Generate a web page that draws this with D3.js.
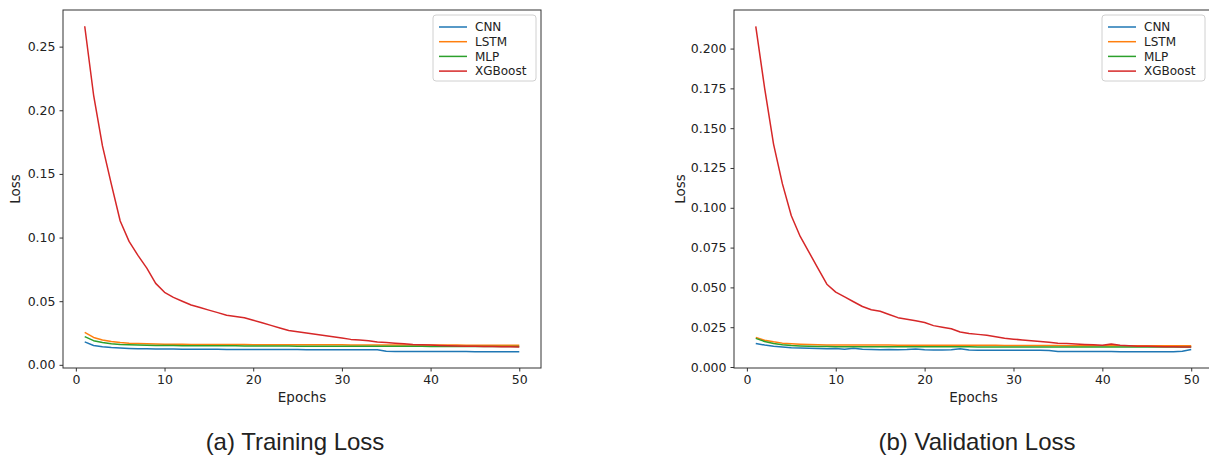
<!DOCTYPE html>
<html>
<head>
<meta charset="utf-8">
<script src="https://cdn.jsdelivr.net/npm/d3@7"></script>
<style>
  body { margin: 0; background: #fff; }
  svg { display: block; }
  text { font-family: "DejaVu Sans", sans-serif; fill: #222; }
</style>
</head>
<body>
<div class="usable"></div>
<script>
// datos
const epochs = d3.range(1, 51)
const modelos = ["CNN", "LSTM", "MLP", "XGBoost"]
const colores = ["#1f77b4", "#ff7f0e", "#2ca02c", "#d62728"]

const trainCNN = [0.0180, 0.0152, 0.0142, 0.0136, 0.0132, 0.0129, 0.0127, 0.0126, 0.0125, 0.0124,
  0.0124, 0.0123, 0.0123, 0.0122, 0.0122, 0.0122, 0.0121, 0.0121, 0.0121, 0.0121,
  0.0120, 0.0120, 0.0120, 0.0120, 0.0120, 0.0119, 0.0119, 0.0119, 0.0119, 0.0119,
  0.0119, 0.0118, 0.0118, 0.0118, 0.0106, 0.0105, 0.0105, 0.0105, 0.0105, 0.0104,
  0.0104, 0.0104, 0.0104, 0.0104, 0.0103, 0.0103, 0.0103, 0.0103, 0.0103, 0.0103]
const trainLSTM = [0.0255, 0.0215, 0.0195, 0.0183, 0.0175, 0.0170, 0.0167, 0.0165, 0.0163, 0.0162,
  0.0161, 0.0161, 0.0160, 0.0160, 0.0160, 0.0159, 0.0159, 0.0159, 0.0159, 0.0158,
  0.0158, 0.0158, 0.0158, 0.0158, 0.0157, 0.0157, 0.0157, 0.0157, 0.0157, 0.0157,
  0.0156, 0.0156, 0.0156, 0.0156, 0.0156, 0.0156, 0.0155, 0.0155, 0.0155, 0.0155,
  0.0155, 0.0155, 0.0155, 0.0154, 0.0154, 0.0154, 0.0154, 0.0154, 0.0154, 0.0154]
const trainMLP = [0.0222, 0.0190, 0.0175, 0.0166, 0.0160, 0.0157, 0.0155, 0.0153, 0.0152, 0.0151,
  0.0151, 0.0150, 0.0150, 0.0150, 0.0149, 0.0149, 0.0149, 0.0149, 0.0148, 0.0148,
  0.0148, 0.0148, 0.0148, 0.0148, 0.0147, 0.0147, 0.0147, 0.0147, 0.0147, 0.0147,
  0.0147, 0.0146, 0.0146, 0.0146, 0.0146, 0.0146, 0.0146, 0.0146, 0.0146, 0.0145,
  0.0145, 0.0145, 0.0145, 0.0145, 0.0145, 0.0145, 0.0145, 0.0145, 0.0145, 0.0145]
const trainXGB = [0.266, 0.212, 0.172, 0.142, 0.113, 0.097, 0.086, 0.076, 0.064, 0.057,
  0.053, 0.050, 0.047, 0.045, 0.043, 0.041, 0.039, 0.038, 0.037, 0.035,
  0.033, 0.031, 0.029, 0.027, 0.026, 0.025, 0.024, 0.023, 0.022, 0.021,
  0.020, 0.0195, 0.019, 0.018, 0.0175, 0.017, 0.0165, 0.016, 0.0158, 0.0155,
  0.0152, 0.0150, 0.0148, 0.0147, 0.0146, 0.0145, 0.0144, 0.0143, 0.0142, 0.0141]

const valCNN = [0.0148, 0.0138, 0.0130, 0.0125, 0.0121, 0.0119, 0.0118, 0.0117, 0.0115, 0.0117,
  0.0112, 0.0118, 0.0111, 0.0110, 0.0109, 0.0110, 0.0109, 0.0110, 0.0113, 0.0108,
  0.0107, 0.0107, 0.0108, 0.0114, 0.0107, 0.0106, 0.0106, 0.0106, 0.0106, 0.0105,
  0.0105, 0.0105, 0.0105, 0.0104, 0.0097, 0.0097, 0.0097, 0.0097, 0.0097, 0.0097,
  0.0097, 0.0096, 0.0096, 0.0096, 0.0096, 0.0096, 0.0096, 0.0096, 0.0099, 0.0110]
const valLSTM = [0.0185, 0.0168, 0.0158, 0.0150, 0.0146, 0.0143, 0.0141, 0.0140, 0.0139, 0.0139,
  0.0138, 0.0138, 0.0138, 0.0138, 0.0139, 0.0138, 0.0137, 0.0137, 0.0137, 0.0137,
  0.0137, 0.0136, 0.0136, 0.0136, 0.0136, 0.0136, 0.0136, 0.0136, 0.0135, 0.0135,
  0.0135, 0.0135, 0.0135, 0.0135, 0.0135, 0.0134, 0.0134, 0.0134, 0.0134, 0.0134,
  0.0134, 0.0134, 0.0134, 0.0133, 0.0133, 0.0133, 0.0133, 0.0133, 0.0133, 0.0133]
const valMLP = [0.0180, 0.0160, 0.0148, 0.0140, 0.0135, 0.0132, 0.0130, 0.0129, 0.0129, 0.0128,
  0.0128, 0.0128, 0.0128, 0.0128, 0.0128, 0.0128, 0.0127, 0.0127, 0.0127, 0.0127,
  0.0127, 0.0127, 0.0127, 0.0127, 0.0127, 0.0126, 0.0126, 0.0126, 0.0126, 0.0126,
  0.0126, 0.0126, 0.0126, 0.0126, 0.0126, 0.0126, 0.0126, 0.0125, 0.0125, 0.0125,
  0.0125, 0.0125, 0.0125, 0.0125, 0.0125, 0.0125, 0.0125, 0.0125, 0.0125, 0.0125]
const valXGB = [0.214, 0.175, 0.140, 0.115, 0.095, 0.082, 0.072, 0.062, 0.052, 0.047,
  0.044, 0.041, 0.038, 0.036, 0.035, 0.033, 0.031, 0.030, 0.029, 0.028,
  0.026, 0.025, 0.024, 0.022, 0.021, 0.0205, 0.020, 0.019, 0.018, 0.0175,
  0.017, 0.0165, 0.016, 0.0155, 0.015, 0.0148, 0.0145, 0.0142, 0.014, 0.0136,
  0.0145, 0.0136, 0.0133, 0.0131, 0.0130, 0.0129, 0.0128, 0.0127, 0.0126, 0.0125]

const xTicks = [0, 10, 20, 30, 40, 50]
const yTicksTrain = [0, 0.05, 0.10, 0.15, 0.20, 0.25]
const yTicksVal = [0, 0.025, 0.05, 0.075, 0.10, 0.125, 0.15, 0.175, 0.20]

const width = 1209,
  height = 462

let svg = d3.select(".usable").append("svg")
  .attr("width", width)
  .attr("height", height)

function dibujarPanel(p) {
  let g = svg.append("g")
  let todos = p.series.flat()
  // margen del 5% como matplotlib
  let ext = d3.extent(todos)
  let padY = (ext[1] - ext[0]) * 0.05
  let padX = (50 - 1) * 0.05

  let x = d3.scaleLinear().domain([1 - padX, 50 + padX]).range([p.left, p.right])
  let y = d3.scaleLinear().domain([ext[0] - padY, ext[1] + padY]).range([p.bottom, p.top])

  // ejes
  let ejeX = g.append("g").attr("transform", "translate(0," + p.bottom + ")")
    .call(d3.axisBottom(x).tickValues(xTicks).tickSize(3.5).tickPadding(4))
  let ejeY = g.append("g").attr("transform", "translate(" + p.left + ",0)")
    .call(d3.axisLeft(y).tickValues(p.yTicks).tickFormat(d3.format(p.fmt)).tickSize(3.5).tickPadding(4))
  g.selectAll(".domain").remove()
  g.selectAll(".tick line").attr("stroke", "#333").attr("stroke-width", 1)
  g.selectAll(".tick text").style("font-size", "12.5px").attr("fill", "#222")

  // lineas
  let linea = d3.line().x((d, i) => x(epochs[i])).y(d => y(d))
  p.series.forEach(function (s, i) {
    g.append("path").datum(s)
      .attr("d", linea)
      .attr("fill", "none")
      .attr("stroke", colores[i])
      .attr("stroke-width", 1.5)
      .attr("stroke-linejoin", "round")
  })

  // marco
  g.append("rect")
    .attr("x", p.left).attr("y", p.top)
    .attr("width", p.right - p.left).attr("height", p.bottom - p.top)
    .attr("fill", "none").attr("stroke", "#333").attr("stroke-width", 1)

  // titulos de ejes
  g.append("text").text("Epochs")
    .attr("x", (p.left + p.right) / 2).attr("y", p.bottom + 34)
    .attr("text-anchor", "middle").style("font-size", "13.5px")
  g.append("text").text("Loss")
    .attr("transform", "translate(" + p.labelX + "," + ((p.top + p.bottom) / 2) + ") rotate(-90)")
    .attr("text-anchor", "middle").style("font-size", "13.5px")

  // leyenda
  let lx = p.legendX, ly = p.top + 5
  let ley = g.append("g")
  ley.append("rect")
    .attr("x", lx).attr("y", ly).attr("width", 103).attr("height", 66).attr("rx", 3)
    .attr("fill", "white").attr("fill-opacity", 0.8)
    .attr("stroke", "#d0d0d0").attr("stroke-width", 1)
  modelos.forEach(function (m, i) {
    let yy = ly + 12 + i * 14.7
    ley.append("line")
      .attr("x1", lx + 6).attr("x2", lx + 34).attr("y1", yy).attr("y2", yy)
      .attr("stroke", colores[i]).attr("stroke-width", 1.5)
    ley.append("text").text(m)
      .attr("x", lx + 42).attr("y", yy + 4.3)
      .style("font-size", "12px")
  })

  // pie de figura
  svg.append("text").text(p.caption)
    .attr("x", p.captionX).attr("y", 450)
    .attr("text-anchor", "middle")
    .style("font-family", "'Liberation Sans', Arial, sans-serif")
    .style("font-size", "24px")
    .attr("fill", "#111")
}

dibujarPanel({
  left: 63, right: 541, top: 10, bottom: 368,
  series: [trainCNN, trainLSTM, trainMLP, trainXGB],
  yTicks: yTicksTrain, fmt: ".2f",
  labelX: 20, legendX: 433,
  caption: "(a) Training Loss", captionX: 295
})

dibujarPanel({
  left: 734, right: 1213, top: 10, bottom: 368,
  series: [valCNN, valLSTM, valMLP, valXGB],
  yTicks: yTicksVal, fmt: ".3f",
  labelX: 685, legendX: 1102,
  caption: "(b) Validation Loss", captionX: 977
})
</script>
</body>
</html>
